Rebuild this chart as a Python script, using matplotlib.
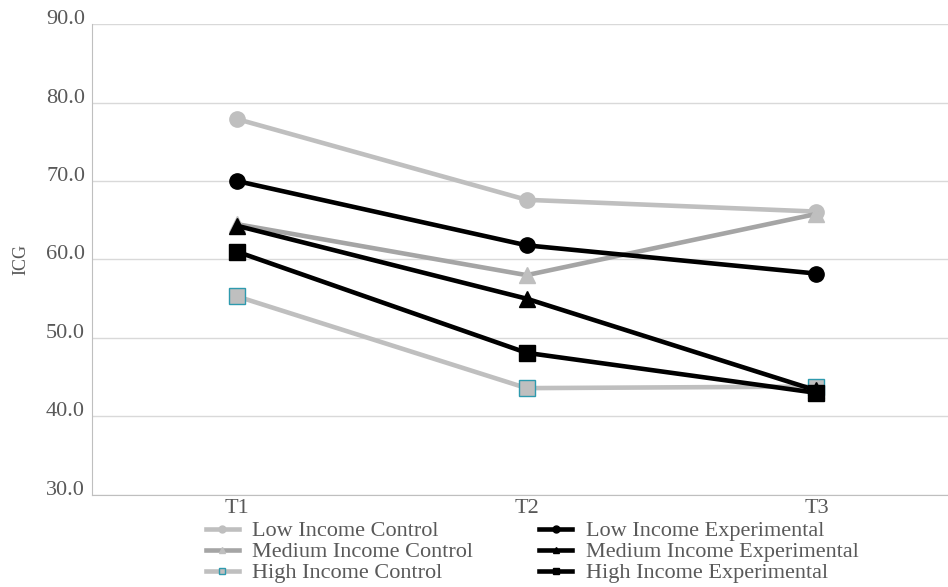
import matplotlib
matplotlib.use("Agg")
import matplotlib.pyplot as plt
from matplotlib.lines import Line2D
from matplotlib.transforms import ScaledTranslation

times = ["T1", "T2", "T3"]
low_ctrl = [77.9, 67.6, 66.1]
med_ctrl = [64.5, 58.0, 65.8]
high_ctrl = [55.3, 43.6, 43.8]
low_exp = [70.0, 61.8, 58.2]
med_exp = [64.3, 55.0, 43.3]
high_exp = [61.0, 48.1, 43.0]

plt.rcParams["font.family"] = ["Liberation Serif", "DejaVu Serif"]

fig = plt.figure(figsize=(9.48, 5.87), dpi=100)
ax = fig.add_axes([0.097, 0.157, 0.917, 0.802])

x = range(len(times))
lw = 3.3
series = [
    ("Low Income Control", low_ctrl, "#BFBFBF", "o", "#BFBFBF"),
    ("Medium Income Control", med_ctrl, "#A5A5A5", "^", "#BFBFBF"),
    ("High Income Control", high_ctrl, "#BFBFBF", "s", "#2E9AAE"),
    ("Low Income Experimental", low_exp, "black", "o", "black"),
    ("Medium Income Experimental", med_exp, "black", "^", "black"),
    ("High Income Experimental", high_exp, "black", "s", "black"),
]
handles = []
for name, vals, col, mk, edge in series:
    mface = "#BFBFBF" if col != "black" else "black"
    ax.plot(x, vals, color=col, lw=lw, marker=mk, markersize=11,
            markerfacecolor=mface, markeredgecolor=edge, markeredgewidth=1.0,
            zorder=3 if col == "black" else 2, clip_on=False)
    handles.append(Line2D([], [], color=col, lw=lw, marker=mk, markersize=5,
                          markerfacecolor=mface, markeredgecolor=edge, label=name))

ax.set_xlim(-0.5, 2.5)
ax.set_ylim(30, 90)
ax.set_yticks(range(30, 91, 10))
ax.set_yticklabels([f"{v:.1f}" for v in range(30, 91, 10)])
ax.set_xticks(list(x))
ax.set_xticklabels(times)
ax.yaxis.grid(True, color="#D9D9D9", lw=1)
ax.set_axisbelow(True)
for s in ["top", "right"]:
    ax.spines[s].set_visible(False)
ax.spines["left"].set_color("#BFBFBF")
ax.spines["bottom"].set_color("#BFBFBF")
ax.tick_params(axis="y", length=0, labelsize=16, colors="#595959", pad=5)
ax.tick_params(axis="x", length=0, labelsize=16, colors="#595959", pad=3)
shift = ScaledTranslation(0, 7 / 100, fig.dpi_scale_trans)
for lab in ax.get_yticklabels():
    lab.set_transform(lab.get_transform() + shift)
ax.set_ylabel("ICG", fontsize=13, color="#595959", labelpad=12)

fig.legend(handles=handles, loc="lower left", bbox_to_anchor=(0.196, -0.028),
           ncol=2, frameon=False, fontsize=16, labelcolor="#595959",
           handlelength=1.5, handletextpad=0.6, columnspacing=2.95,
           labelspacing=0.02)

fig.savefig("out.png", dpi=100)
